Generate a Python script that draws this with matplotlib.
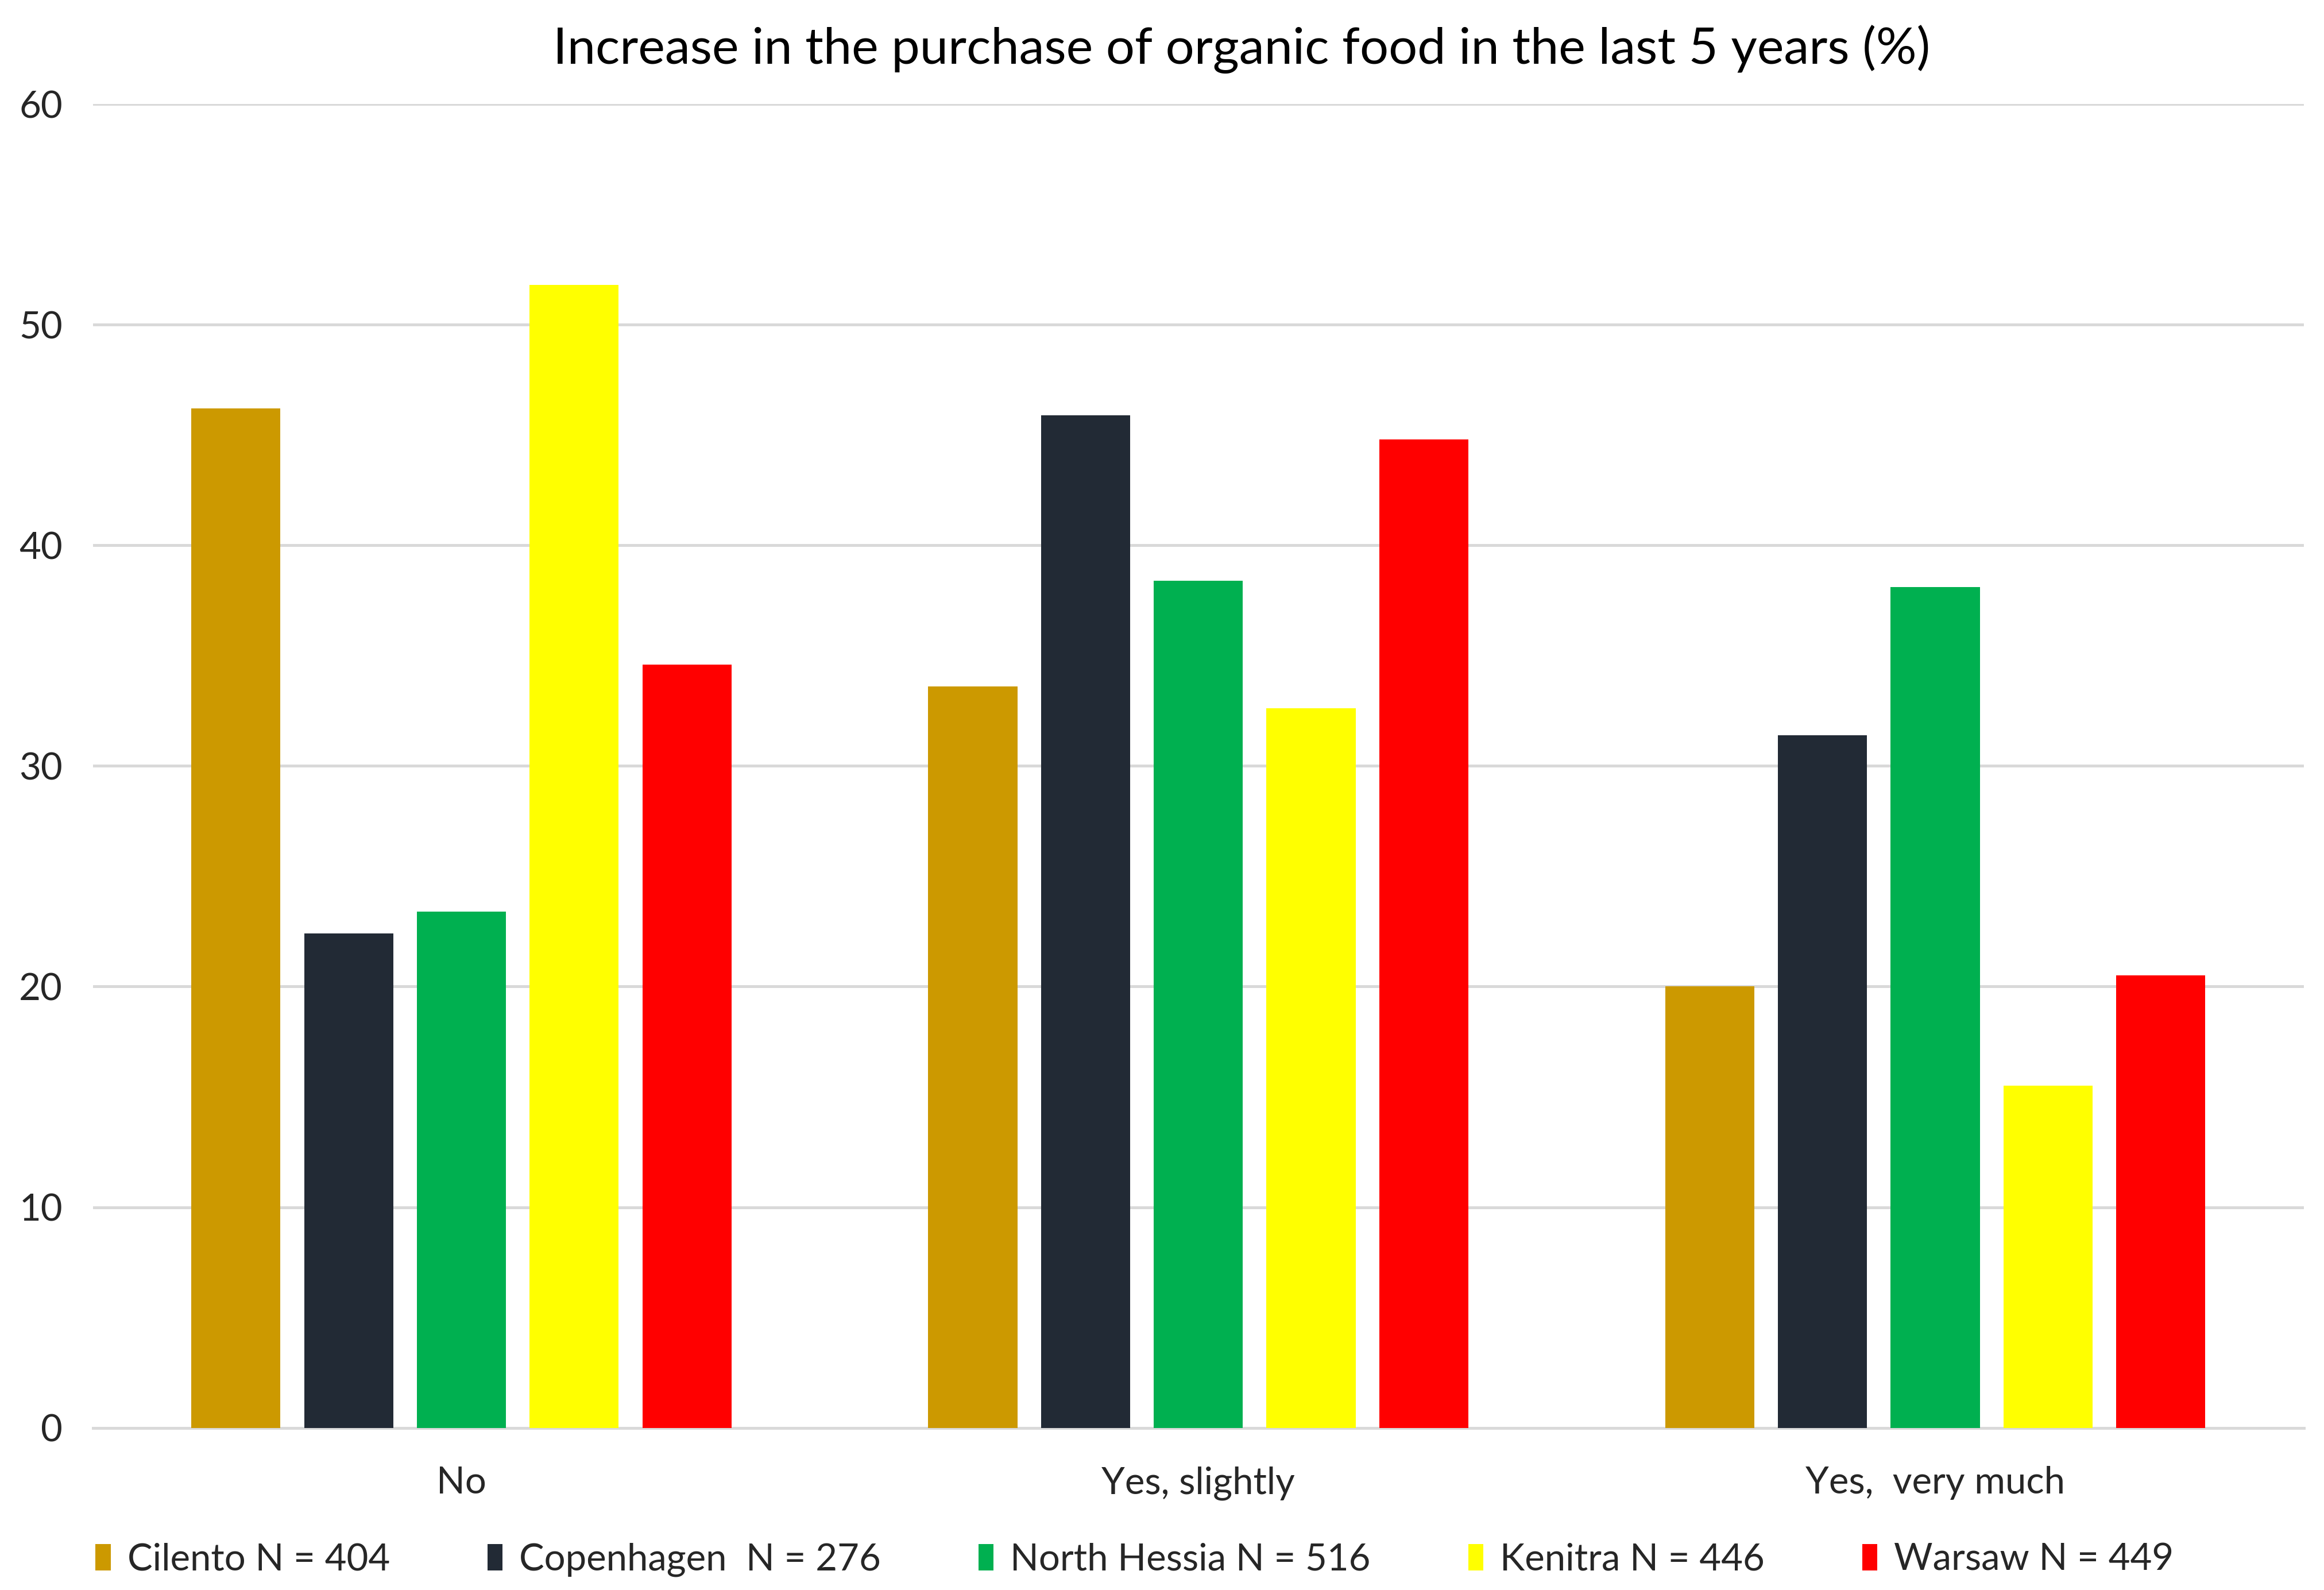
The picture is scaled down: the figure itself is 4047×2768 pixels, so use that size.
import numpy as np
import matplotlib
matplotlib.use("Agg")
from matplotlib import pyplot as plt
from matplotlib.patches import Patch

plt.rcParams['font.family'] = ['Lato', 'DejaVu Sans']

categories = ['No', 'Yes, slightly', 'Yes,  very much']
series_names = ['Cilento N = 404', 'Copenhagen  N = 276', 'North Hessia N = 516',
                'Kenitra N = 446', 'Warsaw N = 449']
cilento = [46.2, 33.6, 20.0]
copenhagen = [22.4, 45.9, 31.4]
north_hessia = [23.4, 38.4, 38.1]
kenitra = [51.8, 32.6, 15.5]
warsaw = [34.6, 44.8, 20.5]
colors = ['#CC9900', '#222A35', '#00B050', '#FFFF00', '#FF0000']

series = [cilento, copenhagen, north_hessia, kenitra, warsaw]

fig = plt.figure(figsize=(40.48, 27.68), dpi=100)
ax = fig.add_axes([0.040, 0.102, 0.951, 0.8326])

x = np.arange(len(categories))
pitch = 0.153
width = 0.121
for i, vals in enumerate(series):
    ax.bar(x + (i - 2) * pitch, vals, width=width, color=colors[i], zorder=3)

ax.set_xlim(-0.5, 2.5)
ax.set_ylim(0, 60)
ax.set_yticks(range(0, 61, 10))
ax.yaxis.grid(True, color='#D9D9D9', linewidth=3.6, zorder=0)
ax.set_axisbelow(True)
for s in ['top', 'right', 'left']:
    ax.spines[s].set_visible(False)
ax.spines['bottom'].set_color('#D9D9D9')
ax.spines['bottom'].set_linewidth(3.6)
ax.set_xticks(x)
ax.set_xticklabels(categories)
ax.tick_params(axis='both', length=0, labelsize=47)
ax.tick_params(axis='x', pad=48)
ax.tick_params(axis='y', pad=38)
for lab in ax.get_xticklabels() + ax.get_yticklabels():
    lab.set_color('#262626')

fig.text(0.534, 0.969, 'Increase in the purchase of organic food in the last 5 years (%)',
         ha='center', va='center', fontsize=63.5, color='#000000')

handles = [Patch(facecolor=c, edgecolor='none') for c in colors]
fig.legend(handles, series_names, loc='lower left', bbox_to_anchor=(0.0266, -0.013),
           ncol=5, frameon=False, fontsize=47, handlelength=0.4, handleheight=0.7,
           handletextpad=0.45, columnspacing=2.6, labelcolor='#262626')

plt.savefig('out.png', dpi=100, facecolor='white')
